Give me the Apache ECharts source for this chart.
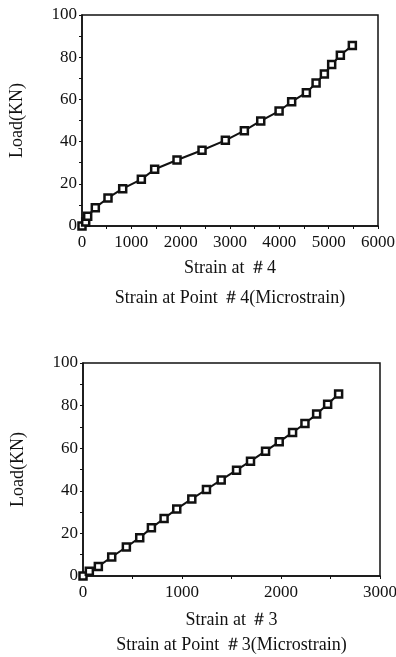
<!DOCTYPE html>
<html>
<head>
<meta charset="utf-8">
<script src="https://cdn.jsdelivr.net/npm/echarts@6/dist/echarts.min.js"></script>
<style>
  html, body { margin: 0; padding: 0; background: #fff; }
  #chart { width: 396px; height: 657px; }
</style>
</head>
<body>
<div id="chart"></div>
<script>
// strain at point #4 vs load
const strain4 = [0, 75, 115, 270, 527, 825, 1203, 1473, 1926, 2433, 2906, 3291, 3623, 3995, 4250, 4548, 4745, 4913, 5061, 5237, 5480];
const load4 = [0, 1.9, 4.6, 8.7, 13.3, 17.7, 22.1, 26.9, 31.3, 35.9, 40.6, 45.2, 49.8, 54.5, 58.9, 63.2, 67.8, 72, 76.5, 80.9, 85.5];

// strain at point #3 vs load
const strain3 = [0, 64, 155, 290, 438, 573, 691, 819, 947, 1099, 1247, 1396, 1551, 1692, 1844, 1982, 2117, 2242, 2360, 2471, 2582];
const load3 = [0, 2.2, 4.5, 8.9, 13.6, 18, 22.6, 27, 31.5, 36.2, 40.6, 45.1, 49.7, 53.9, 58.6, 63, 67.4, 71.6, 76, 80.6, 85.4];

const xNames = ['Strain at ＃4\nStrain at Point ＃4(Microstrain)', 'Strain at ＃3\nStrain at Point ＃3(Microstrain)'];
const yName = 'Load(KN)';

const font = 'Liberation Serif';
const ink = '#111';

const chart = echarts.init(document.getElementById('chart'));

function xAxis(gridIndex, max, name, gap, lineHeight) {
  return {
    type: 'value',
    gridIndex,
    min: 0,
    max,
    interval: 1000,
    name,
    nameLocation: 'middle',
    nameGap: gap,
    nameTextStyle: { fontFamily: font, fontSize: 18, color: ink, lineHeight, verticalAlign: 'top' },
    axisLine: { lineStyle: { color: ink, width: 1.5 } },
    axisTick: { show: true, length: 3, lineStyle: { color: ink } },
    minorTick: { show: true, splitNumber: 2, length: 3, lineStyle: { color: ink } },
    splitLine: { show: false },
    axisLabel: { fontFamily: font, fontSize: 17, color: ink, margin: 8, formatter: (v) => String(v) },
  };
}

function yAxis(gridIndex) {
  return {
    type: 'value',
    gridIndex,
    min: 0,
    max: 100,
    interval: 20,
    name: yName,
    nameLocation: 'middle',
    nameGap: 56,
    nameTextStyle: { fontFamily: font, fontSize: 18, color: ink },
    axisLine: { lineStyle: { color: ink, width: 1.5 } },
    axisTick: { show: true, length: 3, lineStyle: { color: ink } },
    minorTick: { show: true, splitNumber: 2, length: 3, lineStyle: { color: ink } },
    splitLine: { show: false },
    axisLabel: { fontFamily: font, fontSize: 17, color: ink, margin: 5 },
  };
}

function series(i, xs, ys) {
  return {
    type: 'line',
    xAxisIndex: i,
    yAxisIndex: i,
    data: xs.map((x, k) => [x, ys[k]]),
    symbol: 'rect',
    symbolSize: 7,
    lineStyle: { color: ink, width: 2 },
    itemStyle: { color: '#fff', borderColor: ink, borderWidth: 2.5 },
    animation: false,
  };
}

chart.setOption({
  backgroundColor: '#fff',
  grid: [
    { left: 82, top: 15, width: 296, height: 211, show: true, borderColor: ink, borderWidth: 1.5, containLabel: false, outerBoundsMode: 'none' },
    { left: 83, top: 363, width: 297, height: 213, show: true, borderColor: ink, borderWidth: 1.5, containLabel: false, outerBoundsMode: 'none' },
  ],
  xAxis: [xAxis(0, 6000, xNames[0], 27, 30), xAxis(1, 3000, xNames[1], 32, 25)],
  yAxis: [yAxis(0), yAxis(1)],
  series: [series(0, strain4, load4), series(1, strain3, load3)],
});
</script>
</body>
</html>
